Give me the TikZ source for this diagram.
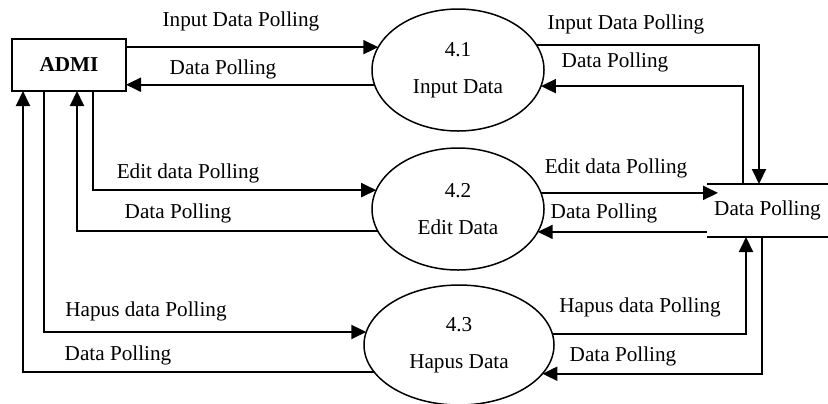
\documentclass[tikz,border=0pt]{standalone}
\usepackage{fontspec}
\setmainfont{Liberation Serif}
\usetikzlibrary{arrows.meta,shapes.geometric}
\begin{document}
\begin{tikzpicture}[x=0.5pt,y=-0.5pt,
  font=\fontsize{10.6pt}{13pt}\selectfont,
  arr/.style={line width=1pt,-{Triangle[length=7.5pt,width=7pt]}},
  plain/.style={line width=1pt},
  proc/.style={ellipse,draw,line width=0.75pt,inner sep=0pt,outer sep=0pt,
    align=center,font=\fontsize{10.6pt}{18.5pt}\selectfont},
  entity/.style={draw,line width=1pt,inner sep=0pt,outer sep=0pt,
    minimum width=57pt,minimum height=26pt,font=\fontsize{10.6pt}{13pt}\selectfont\bfseries},
  storebox/.style={inner sep=0pt,outer sep=0pt,minimum width=60.5pt,minimum height=26.5pt},
  lbl/.style={inner sep=0pt}]
\useasboundingbox (0,0) rectangle (828,403);

% external entity
\node[entity] (admi) at (69,65) {ADMI};

% processes
\node[proc,minimum width=86pt,minimum height=61pt] (e1) at (458,70) {4.1\\Input Data};
\node[proc,minimum width=86pt,minimum height=61pt] (e2) at (458,209) {4.2\\Edit Data};
\node[proc,minimum width=95pt,minimum height=60pt] (e3) at (459,345) {4.3\\Hapus Data};

% data store
\node[storebox] (store) at (767.5,210.5) {Data Polling};
\draw[line width=0.7pt] (store.north west) -- (store.north east);
\draw[line width=0.7pt] (store.south west) -- (store.south east);

% flows between ADMI and the processes
\draw[arr] (admi.east |- e1.164.66) -- (e1.164.66);
\draw[arr] (e1.190.9) -- (admi.east |- e1.190.9);
\draw[arr] (admi.south -| 93,0) |- (e2.167.65);
\draw[arr] (e2.195.34) -| (admi.south -| 77,0);
\draw[arr] (admi.south -| 44,0) |- (e3.172.66);
\draw[arr] (e3.198.43) -| (admi.south -| 23,0);

% flows between the processes and the data store
\draw[arr] (e1.18.48) -| (store.north -| 759,0);
\draw[arr] (store.north -| 743,0) |- (e1.349.1);
\draw[arr,shorten >=-5.5pt] (e2.11.63) -- (store.west |- e2.11.63);
\draw[arr] (store.west |- e2.344.66) -- (e2.344.66);
\draw[arr] (e3.7.34) -| (store.south -| 746,0);
\draw[arr] (store.south -| 762,0) |- (e3.341.57);

% flow labels
\node[lbl] (l1) at (241,21) {Input Data Polling};
\node[lbl] (l2) at (223,69) {Data Polling};
\node[lbl] (l3) at (188,173) {Edit data Polling};
\node[lbl] (l4) at (178,213) {Data Polling};
\node[lbl] (l5) at (146,311) {Hapus data Polling};
\node[lbl] (l6) at (118,355) {Data Polling};
\node[lbl] (r1) at (626,24) {Input Data Polling};
\node[lbl] (r2) at (615,62) {Data Polling};
\node[lbl] (r3) at (616,168) {Edit data Polling};
\node[lbl] (r4) at (604,213) {Data Polling};
\node[lbl] (r5) at (640,307) {Hapus data Polling};
\node[lbl] (r6) at (623,356) {Data Polling};
\end{tikzpicture}
\end{document}
